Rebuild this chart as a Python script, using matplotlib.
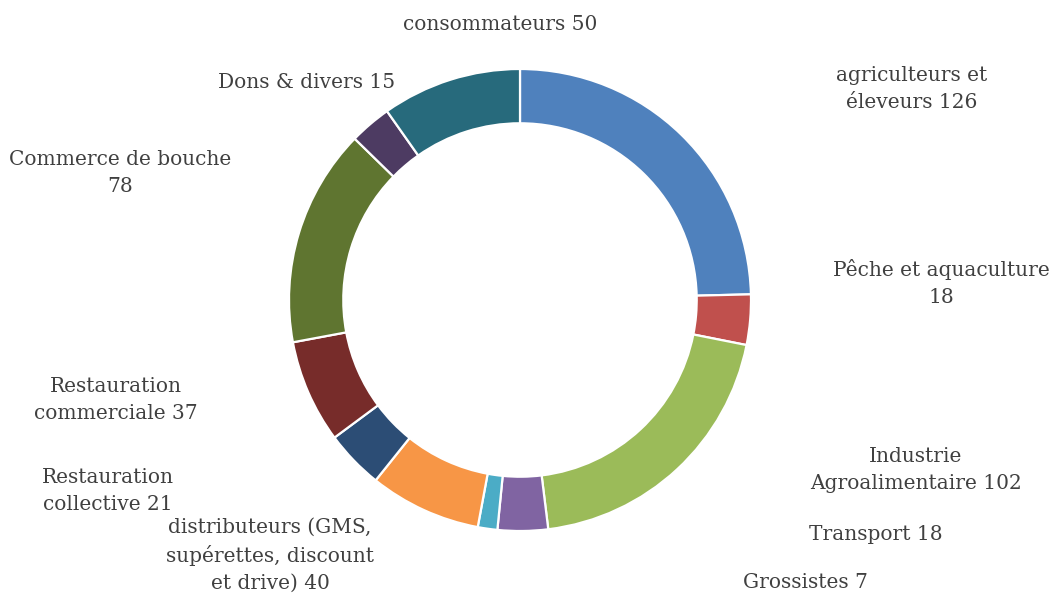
import matplotlib.pyplot as plt

# sector counts, clockwise from 12 o'clock
labels = ['agriculteurs et\néleveurs', 'Pêche et aquaculture\n', 'Industrie\nAgroalimentaire',
          'Transport', 'Grossistes', 'distributeurs (GMS,\nsupérettes, discount\net drive)',
          'Restauration\ncollective', 'Restauration\ncommerciale', 'Commerce de bouche\n',
          'Dons & divers', 'consommateurs']
values = [126, 18, 102, 18, 7, 40, 21, 37, 78, 15, 50]
colors = ['#4F81BD', '#C0504D', '#9BBB59', '#8064A2', '#4BACC6', '#F79646',
          '#2C4D75', '#772C2A', '#5F7530', '#4D3B62', '#276A7C']

# label anchor points (pixel, from top-left)
label_pos = [(912, 89), (941, 283), (916, 470), (876, 535), (805, 582), (270, 555),
             (108, 491), (116, 400), (120, 173), (307, 83), (500, 25)]

W, H = 1050, 595
cx, cy, R = 520, 300, 231

fig = plt.figure(figsize=(W / 100, H / 100), dpi=100)
ax = fig.add_axes([0, 0, 1, 1])

ax.pie(values, colors=colors, startangle=90, counterclock=False, radius=1,
       wedgeprops=dict(width=0.235, edgecolor='white', linewidth=1.6))

# pie() resets the limits, so set them afterwards
ax.set_xlim(-cx / R, (W - cx) / R)
ax.set_ylim(-(H - cy) / R, cy / R)
ax.set_aspect('equal')
ax.axis('off')

for lab, v, (px, py) in zip(labels, values, label_pos):
    txt = lab + (f'{v}' if lab.endswith('\n') else f' {v}')
    ax.text((px - cx) / R, (cy - py) / R, txt, ha='center', va='center',
            multialignment='center', fontsize=14.5, color='#404040',
            family='DejaVu Serif', linespacing=1.5)

fig.savefig('out.png', dpi=100)
